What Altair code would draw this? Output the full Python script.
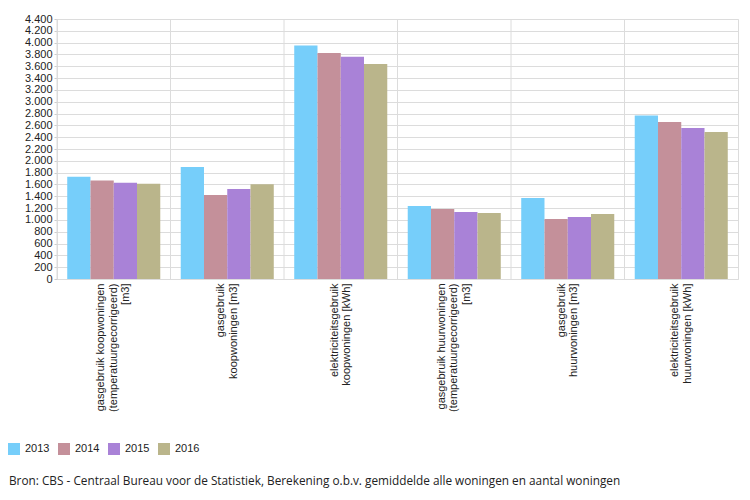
import altair as alt
import pandas as pd

categories = [
    "gasgebruik koopwoningen|(temperatuurgecorrigeerd)|[m3]",
    "gasgebruik|koopwoningen [m3]",
    "elektriciteitsgebruik|koopwoningen [kWh]",
    "gasgebruik huurwoningen|(temperatuurgecorrigeerd)|[m3]",
    "gasgebruik|huurwoningen [m3]",
    "elektriciteitsgebruik|huurwoningen [kWh]",
]
years = ["2013", "2014", "2015", "2016"]
v2013 = [1730, 1895, 3950, 1235, 1370, 2765]
v2014 = [1665, 1420, 3825, 1185, 1015, 2655]
v2015 = [1630, 1525, 3760, 1135, 1050, 2555]
v2016 = [1612, 1605, 3640, 1118, 1100, 2487]
colors = ["#76CEFA", "#C4909A", "#A982D7", "#BAB58B"]
y_ticks = list(range(0, 4401, 200))
source = "Bron: CBS - Centraal Bureau voor de Statistiek, Berekening o.b.v. gemiddelde alle woningen en aantal woningen"

rows = []
for yr, vals in zip(years, [v2013, v2014, v2015, v2016]):
    for c, v in zip(categories, vals):
        rows.append({"cat": c, "year": yr, "value": v})
df = pd.DataFrame(rows)

x_scale = alt.Scale(paddingInner=0, paddingOuter=0)

bars = alt.Chart(df).mark_bar().encode(
    x=alt.X("cat:N", sort=categories, scale=x_scale, title=None,
            axis=alt.Axis(labelAngle=270, labelExpr="split(datum.label, '|')",
                          labelFont="Liberation Sans", labelFontSize=11,
                          labelColor="#222", labelLimit=0, labelLineHeight=12.5,
                          labelOffset={"condition": {"test": "indexof(datum.label, '(') >= 0",
                                                     "value": -12.5},
                                       "value": -6.25},
                          labelPadding=4, ticks=False, domain=False, grid=False)),
    xOffset=alt.XOffset("year:N", sort=years,
                        scale=alt.Scale(paddingOuter=0.44, paddingInner=0)),
    y=alt.Y("value:Q", scale=alt.Scale(domain=[0, 4400], nice=False), title=None,
            axis=alt.Axis(values=y_ticks,
                          labelExpr="replace(format(datum.value, ','), ',', '.')",
                          labelFont="Liberation Sans", labelFontSize=11,
                          labelColor="#222", labelPadding=2, tickSize=3,
                          tickColor="#ccc", domain=False, gridColor="#dcdcdc")),
    color=alt.Color("year:N", sort=years, scale=alt.Scale(domain=years, range=colors),
                    title=None,
                    legend=alt.Legend(orient="none", legendX=-49, legendY=424,
                                      direction="horizontal", symbolType="square",
                                      symbolSize=144, symbolStrokeWidth=0,
                                      labelFont="Liberation Sans", labelFontSize=11,
                                      labelColor="#222", labelOffset=5,
                                      columnPadding=8)),
)

grid = alt.Chart(pd.DataFrame({"cat": categories})).mark_rule(
    color="#dcdcdc", strokeWidth=1
).encode(x=alt.X("cat:N", sort=categories, bandPosition=0, scale=x_scale))

src = alt.Chart(pd.DataFrame({"t": [source]})).mark_text(
    align="left", baseline="alphabetic", font="Open Sans", fontSize=11.8, color="#222"
).encode(x=alt.value(-48), y=alt.value(466), text="t:N")

chart = alt.layer(grid, bars, src).properties(
    width=681, height=260,
    autosize=alt.AutoSizeParams(type="none"),
    padding={"left": 49, "top": 11, "right": 4, "bottom": 215},
).configure_view(stroke="#dcdcdc")

chart.save("out.html", embed_options={"renderer": "svg", "actions": False})
